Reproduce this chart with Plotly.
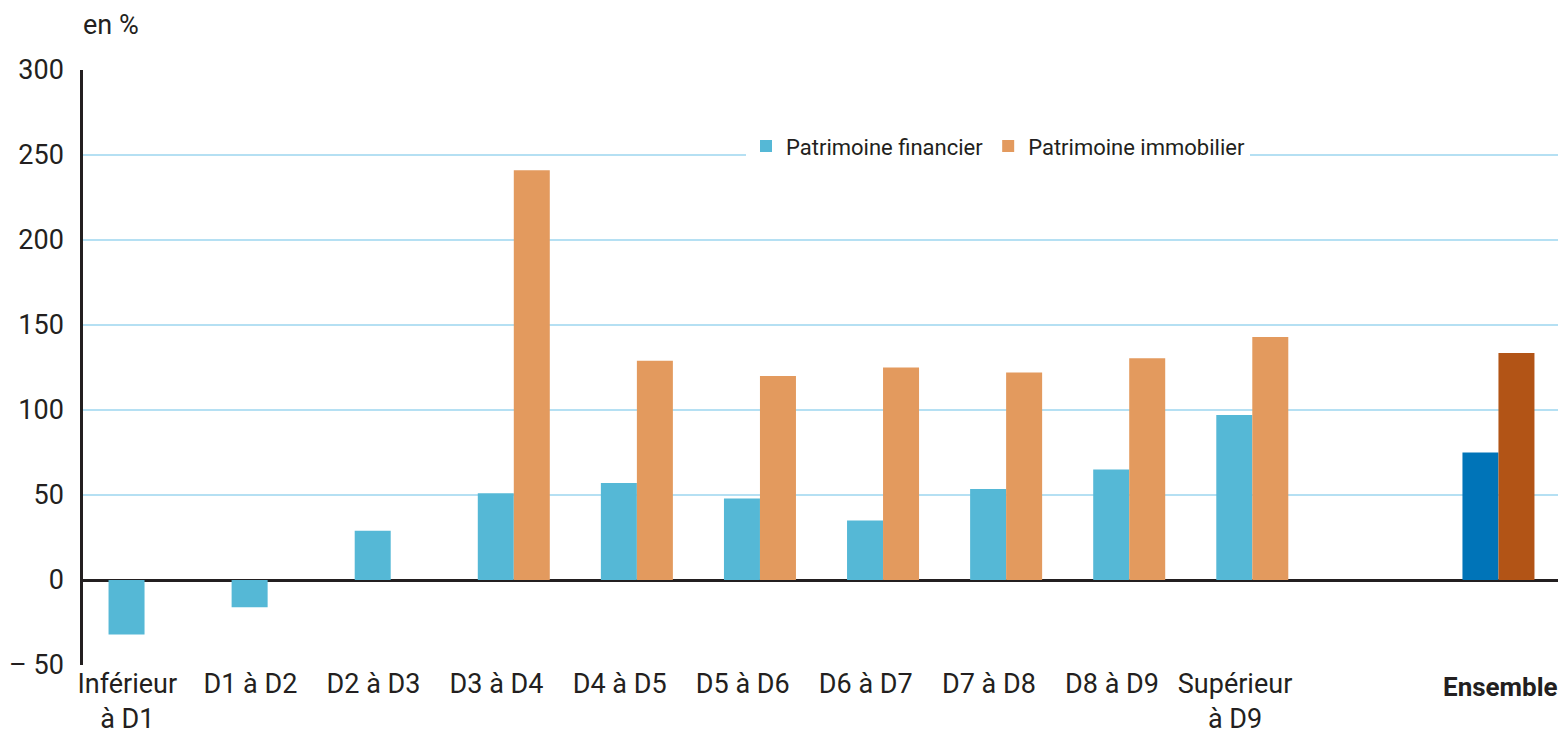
import plotly.graph_objects as go

categories = ["Inférieur<br>à D1", "D1 à D2", "D2 à D3", "D3 à D4", "D4 à D5", "D5 à D6",
              "D6 à D7", "D7 à D8", "D8 à D9", "Supérieur<br>à D9", "", "Ensemble"]
financier = [-32, -16, 29, 51, 57, 48, 35, 53.5, 65, 97, None, 75]
immobilier = [None, None, None, 241, 129, 120, 125, 122, 130.5, 143, None, 133.5]
y_ticks = [-50, 0, 50, 100, 150, 200, 250, 300]
y_ticktext = ["– 50", "0", "50", "100", "150", "200", "250", "300"]

FONT = "Roboto, Liberation Sans, Arial, sans-serif"
TXT = "#231f20"

x = list(range(len(categories)))
fin_colors = ["#55b8d6"] * 11 + ["#0074b8"]
imm_colors = ["#e39a5e"] * 11 + ["#b25416"]

fig = go.Figure()
fig.add_trace(go.Bar(x=x, y=financier, name="Patrimoine financier",
                     marker=dict(color=fin_colors, line=dict(width=0))))
fig.add_trace(go.Bar(x=x, y=immobilier, name="Patrimoine immobilier",
                     marker=dict(color=imm_colors, line=dict(width=0))))

# decile labels as ticks; the "Ensemble" label as a right-aligned bold annotation
tickvals = [i - 0.14 for i in range(10)]
ticktext = categories[:10]

# the page body adds an 8px margin, so the figure is sized/offset to compensate
fig.update_layout(
    width=1558, height=731,
    margin=dict(l=75, r=6, t=62, b=74),
    paper_bgcolor="white", plot_bgcolor="white",
    barmode="group", bargap=0.415, bargroupgap=0,
    font=dict(family=FONT, size=24, color=TXT),
    showlegend=True,
    legend=dict(orientation="h", x=0.6195, y=0.872, xanchor="center", yanchor="middle",
                bgcolor="white", font=dict(size=22, color=TXT),
                traceorder="normal", itemwidth=30),
    xaxis=dict(range=[-0.5, 11.5], tickvals=tickvals, ticktext=ticktext,
               showgrid=False, zeroline=False, showline=False, ticks="",
               automargin=False, tickfont=dict(size=27, color=TXT)),
    yaxis=dict(range=[-50, 300], tickvals=y_ticks, ticktext=y_ticktext,
               showgrid=True, gridcolor="#b5e0f3", gridwidth=1.5,
               zeroline=True, zerolinecolor="#231f20", zerolinewidth=2.5,
               showline=True, linecolor="#231f20", linewidth=2.5,
               ticks="", ticklabelstandoff=11, automargin=False,
               tickfont=dict(size=27, color=TXT)),
    annotations=[
        dict(text="en %", xref="paper", yref="paper", x=0, y=1.0756, xshift=-2,
             xanchor="left", yanchor="middle", showarrow=False,
             font=dict(size=27, color=TXT)),
        dict(text="<b>" + categories[11] + "</b>", xref="paper", yref="paper", x=1, y=0,
             xshift=0, yshift=-5, xanchor="right", yanchor="top", showarrow=False,
             font=dict(size=26, color=TXT)),
    ],
)

fig.write_html("out.html")
